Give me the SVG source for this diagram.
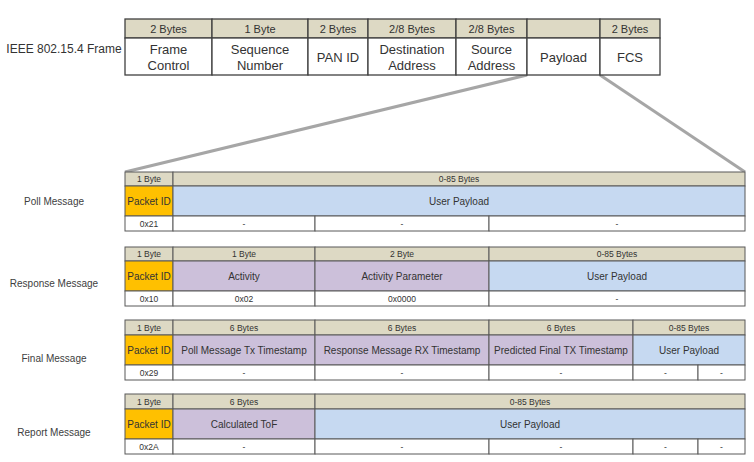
<svg xmlns="http://www.w3.org/2000/svg" width="754" height="462" viewBox="0 0 754 462">
<style>
text{font-family:"Liberation Sans",Arial,sans-serif;text-anchor:middle;fill:#333}
.fr{stroke:#404040;stroke-width:1.3}
.c{stroke:#595959;stroke-width:1}
.hd{fill:#ddd9c4}
.wh{fill:#ffffff}
.or{fill:#ffc000}
.pu{fill:#ccc0da}
.bl{fill:#c6d9f1}
.th{font-size:11px}
.tb{font-size:13px}
.mh{font-size:8.5px}
.mb{font-size:10px}
.lb{font-size:10px;fill:#404040}
.lk{stroke:#a6a6a6;stroke-width:3;fill:none}
</style>
<rect width="754" height="462" fill="#ffffff"/>

<g id="connectors">
<line class="lk" x1="527" y1="75" x2="125" y2="172"/>
<line class="lk" x1="600" y1="75" x2="745" y2="172"/>
</g>

<g id="frame">
<text x="64" y="52.5" style="font-size:12px;text-anchor:middle">IEEE 802.15.4 Frame</text>
<g class="fr">
<rect class="hd" x="125" y="19" width="87" height="19"/>
<rect class="hd" x="212" y="19" width="96" height="19"/>
<rect class="hd" x="308" y="19" width="60" height="19"/>
<rect class="hd" x="368" y="19" width="88" height="19"/>
<rect class="hd" x="456" y="19" width="71" height="19"/>
<rect class="hd" x="527" y="19" width="73" height="19"/>
<rect class="hd" x="600" y="19" width="60" height="19"/>
<rect class="wh" x="125" y="38" width="87" height="37"/>
<rect class="wh" x="212" y="38" width="96" height="37"/>
<rect class="wh" x="308" y="38" width="60" height="37"/>
<rect class="wh" x="368" y="38" width="88" height="37"/>
<rect class="wh" x="456" y="38" width="71" height="37"/>
<rect class="wh" x="527" y="38" width="73" height="37"/>
<rect class="wh" x="600" y="38" width="60" height="37"/>
</g>
<text class="th" x="168.5" y="32.5">2 Bytes</text>
<text class="th" x="260" y="32.5">1 Byte</text>
<text class="th" x="338" y="32.5">2 Bytes</text>
<text class="th" x="412" y="32.5">2/8 Bytes</text>
<text class="th" x="491.5" y="32.5">2/8 Bytes</text>
<text class="th" x="630" y="32.5">2 Bytes</text>
<text class="tb" x="168.5" y="53.5">Frame</text>
<text class="tb" x="168.5" y="70">Control</text>
<text class="tb" x="260" y="53.5">Sequence</text>
<text class="tb" x="260" y="70">Number</text>
<text class="tb" x="338" y="61.5">PAN ID</text>
<text class="tb" x="412" y="53.5">Destination</text>
<text class="tb" x="412" y="70">Address</text>
<text class="tb" x="491.5" y="53.5">Source</text>
<text class="tb" x="491.5" y="70">Address</text>
<text class="tb" x="563.5" y="61.5">Payload</text>
<text class="tb" x="630" y="61.5">FCS</text>
</g>

<g id="poll">
<text class="lb" x="54" y="204.5">Poll Message</text>
<g class="c">
<rect class="hd" x="125" y="172" width="48" height="14"/>
<rect class="hd" x="173" y="172" width="572" height="14"/>
<rect class="or" x="125" y="186" width="48" height="30"/>
<rect class="bl" x="173" y="186" width="572" height="30"/>
<rect class="wh" x="125" y="216" width="48" height="15"/>
<rect class="wh" x="173" y="216" width="142" height="15"/>
<rect class="wh" x="315" y="216" width="174" height="15"/>
<rect class="wh" x="489" y="216" width="256" height="15"/>
</g>
<text class="mh" x="149" y="182">1 Byte</text>
<text class="mh" x="459" y="182">0-85 Bytes</text>
<text class="mb" x="149" y="204.5">Packet ID</text>
<text class="mb" x="459" y="204.5">User Payload</text>
<text class="mh" x="149" y="226.5">0x21</text>
<text class="mh" x="244" y="226.5">-</text>
<text class="mh" x="402" y="226.5">-</text>
<text class="mh" x="617" y="226.5">-</text>
</g>

<g id="response">
<text class="lb" x="54" y="286.5">Response Message</text>
<g class="c">
<rect class="hd" x="125" y="247" width="48" height="14"/>
<rect class="hd" x="173" y="247" width="142" height="14"/>
<rect class="hd" x="315" y="247" width="174" height="14"/>
<rect class="hd" x="489" y="247" width="256" height="14"/>
<rect class="or" x="125" y="261" width="48" height="30"/>
<rect class="pu" x="173" y="261" width="142" height="30"/>
<rect class="pu" x="315" y="261" width="174" height="30"/>
<rect class="bl" x="489" y="261" width="256" height="30"/>
<rect class="wh" x="125" y="291" width="48" height="15"/>
<rect class="wh" x="173" y="291" width="142" height="15"/>
<rect class="wh" x="315" y="291" width="174" height="15"/>
<rect class="wh" x="489" y="291" width="256" height="15"/>
</g>
<text class="mh" x="149" y="257">1 Byte</text>
<text class="mh" x="244" y="257">1 Byte</text>
<text class="mh" x="402" y="257">2 Byte</text>
<text class="mh" x="617" y="257">0-85 Bytes</text>
<text class="mb" x="149" y="279.5">Packet ID</text>
<text class="mb" x="244" y="279.5">Activity</text>
<text class="mb" x="402" y="279.5">Activity Parameter</text>
<text class="mb" x="617" y="279.5">User Payload</text>
<text class="mh" x="149" y="301.5">0x10</text>
<text class="mh" x="244" y="301.5">0x02</text>
<text class="mh" x="402" y="301.5">0x0000</text>
<text class="mh" x="617" y="301.5">-</text>
</g>

<g id="final">
<text class="lb" x="54" y="361.5">Final Message</text>
<g class="c">
<rect class="hd" x="125" y="320" width="48" height="15"/>
<rect class="hd" x="173" y="320" width="142" height="15"/>
<rect class="hd" x="315" y="320" width="174" height="15"/>
<rect class="hd" x="489" y="320" width="144" height="15"/>
<rect class="hd" x="633" y="320" width="112" height="15"/>
<rect class="or" x="125" y="335" width="48" height="30"/>
<rect class="pu" x="173" y="335" width="142" height="30"/>
<rect class="pu" x="315" y="335" width="174" height="30"/>
<rect class="pu" x="489" y="335" width="144" height="30"/>
<rect class="bl" x="633" y="335" width="112" height="30"/>
<rect class="wh" x="125" y="365" width="48" height="15"/>
<rect class="wh" x="173" y="365" width="142" height="15"/>
<rect class="wh" x="315" y="365" width="174" height="15"/>
<rect class="wh" x="489" y="365" width="144" height="15"/>
<rect class="wh" x="633" y="365" width="65" height="15"/>
<rect class="wh" x="698" y="365" width="47" height="15"/>
</g>
<text class="mh" x="149" y="330.5">1 Byte</text>
<text class="mh" x="244" y="330.5">6 Bytes</text>
<text class="mh" x="402" y="330.5">6 Bytes</text>
<text class="mh" x="561" y="330.5">6 Bytes</text>
<text class="mh" x="689" y="330.5">0-85 Bytes</text>
<text class="mb" x="149" y="353.5">Packet ID</text>
<text class="mb" x="244" y="353.5">Poll Message Tx Timestamp</text>
<text class="mb" x="402" y="353.5">Response Message RX Timestamp</text>
<text class="mb" x="561" y="353.5">Predicted Final TX Timestamp</text>
<text class="mb" x="689" y="353.5">User Payload</text>
<text class="mh" x="149" y="375.5">0x29</text>
<text class="mh" x="244" y="375.5">-</text>
<text class="mh" x="402" y="375.5">-</text>
<text class="mh" x="561" y="375.5">-</text>
<text class="mh" x="665.5" y="375.5">-</text>
<text class="mh" x="721.5" y="375.5">-</text>
</g>

<g id="report">
<text class="lb" x="54" y="435.5">Report Message</text>
<g class="c">
<rect class="hd" x="125" y="394" width="48" height="15"/>
<rect class="hd" x="173" y="394" width="142" height="15"/>
<rect class="hd" x="315" y="394" width="430" height="15"/>
<rect class="or" x="125" y="409" width="48" height="30"/>
<rect class="pu" x="173" y="409" width="142" height="30"/>
<rect class="bl" x="315" y="409" width="430" height="30"/>
<rect class="wh" x="125" y="439" width="48" height="15"/>
<rect class="wh" x="173" y="439" width="142" height="15"/>
<rect class="wh" x="315" y="439" width="174" height="15"/>
<rect class="wh" x="489" y="439" width="144" height="15"/>
<rect class="wh" x="633" y="439" width="65" height="15"/>
<rect class="wh" x="698" y="439" width="47" height="15"/>
</g>
<text class="mh" x="149" y="404.5">1 Byte</text>
<text class="mh" x="244" y="404.5">6 Bytes</text>
<text class="mh" x="530" y="404.5">0-85 Bytes</text>
<text class="mb" x="149" y="427.5">Packet ID</text>
<text class="mb" x="244" y="427.5">Calculated ToF</text>
<text class="mb" x="530" y="427.5">User Payload</text>
<text class="mh" x="149" y="449.5">0x2A</text>
<text class="mh" x="244" y="449.5">-</text>
<text class="mh" x="402" y="449.5">-</text>
<text class="mh" x="561" y="449.5">-</text>
<text class="mh" x="665.5" y="449.5">-</text>
<text class="mh" x="721.5" y="449.5">-</text>
</g>
</svg>
